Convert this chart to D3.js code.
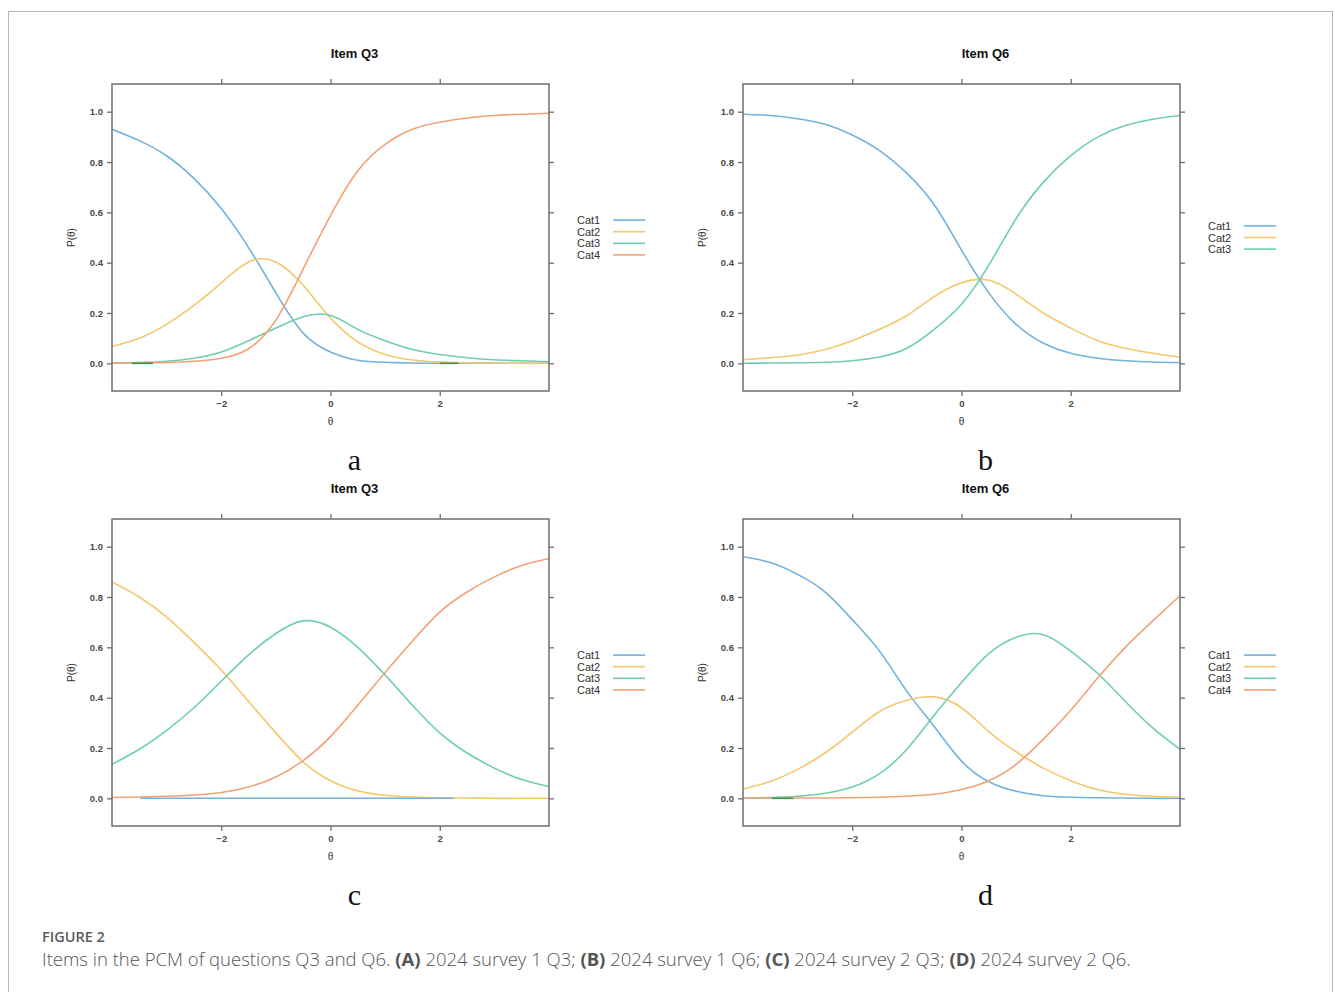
<!DOCTYPE html>
<html lang="en">
<head>
<meta charset="utf-8">
<title>Items in the PCM of questions Q3 and Q6</title>
<script src="https://cdnjs.cloudflare.com/ajax/libs/d3/7.8.5/d3.min.js"></script>
<style>
  body { margin: 0; background: #fff; }
  .tick-label { font-family: "Liberation Sans", Arial, sans-serif; font-size: 9.5px; font-weight: bold; fill: #4a4a4a; }
  .axis-title { font-family: "Liberation Sans", Arial, sans-serif; font-size: 10px; fill: #333; }
  .panel-title { font-family: "Liberation Sans", Arial, sans-serif; font-size: 13px; font-weight: bold; fill: #111; }
  .legend-text { font-family: "Liberation Sans", Arial, sans-serif; font-size: 11px; fill: #333; }
  .letter { font-family: "Liberation Serif", "Times New Roman", serif; font-size: 30px; fill: #111; }
  .fig-label { font-family: "Open Sans", sans-serif; font-size: 14.5px; font-weight: 600; fill: #5a5a5a; }
  .caption { font-family: "Open Sans", sans-serif; font-size: 18.5px; font-weight: 300; fill: #555; }
</style>
</head>
<body>
<script>
// theta grid shared by every curve
const theta = [-4, -3.5, -3, -2.5, -2, -1.5, -1, -0.5, 0, 0.5, 1, 1.5, 2, 2.5, 3, 3.5, 4];

const catNames = ["Cat1", "Cat2", "Cat3", "Cat4"];
const catColors = ["#72b2dc", "#f5c76c", "#6dcfad", "#f1a277"];
const xTicks = [-2, 0, 2];
const yTicks = [0, 0.2, 0.4, 0.6, 0.8, 1.0];

// (a) 2024 survey 1, Q3
const aCat1 = [0.93, 0.885, 0.825, 0.735, 0.615, 0.46, 0.28, 0.12, 0.045, 0.012, 0.004, 0.001, 0, 0, 0, 0, 0];
const aCat2 = [0.067, 0.10, 0.155, 0.23, 0.32, 0.403, 0.403, 0.31, 0.18, 0.085, 0.035, 0.013, 0.005, 0.002, 0.001, 0, 0];
const aCat3 = [0.001, 0.003, 0.008, 0.02, 0.045, 0.09, 0.14, 0.185, 0.19, 0.135, 0.09, 0.055, 0.035, 0.022, 0.014, 0.01, 0.006];
const aCat4 = [0, 0.001, 0.003, 0.008, 0.02, 0.058, 0.172, 0.375, 0.587, 0.765, 0.87, 0.93, 0.958, 0.975, 0.985, 0.99, 0.994];

// (b) 2024 survey 1, Q6
const bCat1 = [0.99, 0.985, 0.972, 0.95, 0.907, 0.845, 0.755, 0.63, 0.45, 0.28, 0.155, 0.08, 0.04, 0.02, 0.01, 0.005, 0.003];
const bCat2 = [0.014, 0.022, 0.033, 0.055, 0.09, 0.135, 0.19, 0.265, 0.32, 0.33, 0.275, 0.2, 0.14, 0.09, 0.06, 0.04, 0.024];
const bCat3 = [0, 0.001, 0.002, 0.004, 0.01, 0.025, 0.06, 0.135, 0.235, 0.39, 0.575, 0.72, 0.825, 0.9, 0.945, 0.97, 0.985];

// (c) 2024 survey 2, Q3 (Cat1 sits on zero, drawn as a segment below)
const cCat2 = [0.86, 0.80, 0.72, 0.62, 0.51, 0.385, 0.26, 0.145, 0.07, 0.03, 0.012, 0.005, 0.002, 0.001, 0, 0, 0];
const cCat3 = [0.135, 0.195, 0.27, 0.36, 0.465, 0.57, 0.655, 0.705, 0.68, 0.60, 0.49, 0.37, 0.26, 0.18, 0.12, 0.075, 0.047];
const cCat4 = [0.003, 0.005, 0.008, 0.013, 0.023, 0.045, 0.085, 0.15, 0.245, 0.37, 0.5, 0.625, 0.74, 0.82, 0.88, 0.925, 0.953];

// (d) 2024 survey 2, Q6
const dCat1 = [0.96, 0.937, 0.89, 0.82, 0.71, 0.585, 0.425, 0.285, 0.148, 0.066, 0.028, 0.01, 0.004, 0.002, 0.001, 0, 0];
const dCat2 = [0.037, 0.067, 0.115, 0.18, 0.263, 0.345, 0.39, 0.403, 0.36, 0.265, 0.185, 0.12, 0.07, 0.034, 0.016, 0.008, 0.004];
const dCat3 = [0.001, 0.003, 0.008, 0.02, 0.045, 0.098, 0.195, 0.33, 0.46, 0.575, 0.64, 0.65, 0.585, 0.495, 0.385, 0.28, 0.195];
const dCat4 = [0, 0, 0.001, 0.001, 0.002, 0.004, 0.008, 0.016, 0.035, 0.07, 0.135, 0.235, 0.35, 0.48, 0.6, 0.705, 0.805];

// short segments lying on P = 0 (theta from, theta to)
const aZeroSegs = [[-3.64, -3.25], [2.0, 2.34]];
const cZeroSegs = [[-3.48, 2.26]];
const dZeroSegs = [[-3.47, -3.08]];

const panels = [
  { title: "Item Q3", letter: "a", series: [aCat1, aCat2, aCat3, aCat4], zero: aZeroSegs, zeroColor: "#3f8d55" },
  { title: "Item Q6", letter: "b", series: [bCat1, bCat2, bCat3], zero: [], zeroColor: null },
  { title: "Item Q3", letter: "c", series: [null, cCat2, cCat3, cCat4], zero: cZeroSegs, zeroColor: catColors[0] },
  { title: "Item Q6", letter: "d", series: [dCat1, dCat2, dCat3, dCat4], zero: dZeroSegs, zeroColor: "#3f8d55" }
];

const W = 1335, H = 992;
const svg = d3.select("body").append("svg").attr("width", W).attr("height", H);

// outer figure border
svg.append("rect")
  .attr("x", 8.5).attr("y", 11.5).attr("width", 1324).attr("height", 1000)
  .attr("fill", "none").attr("stroke", "#b5b5b5").attr("stroke-width", 1);

const lefts = [112, 743];
const tops = [84, 519];
const pw = 437, ph = 307;

panels.forEach((p, i) => {
  const x0 = lefts[i % 2], y0 = tops[Math.floor(i / 2)];
  const g = svg.append("g");

  const x = d3.scaleLinear().domain([-4, 4]).range([x0, x0 + pw]);
  const y = d3.scaleLinear().domain([-0.11, 1.11]).range([y0 + ph, y0]);

  const axisStyle = sel => {
    sel.select(".domain").remove();
    sel.selectAll(".tick line").attr("stroke", "#6e6e6e").attr("stroke-width", 1.3);
    sel.selectAll(".tick text").attr("class", "tick-label");
  };

  g.append("g").attr("transform", `translate(0,${y0 + ph})`)
    .call(d3.axisBottom(x).tickValues(xTicks).tickSize(5).tickPadding(4).tickFormat(d3.format("d")))
    .call(axisStyle);
  g.append("g").attr("transform", `translate(0,${y0})`)
    .call(d3.axisTop(x).tickValues(xTicks).tickSize(5).tickFormat(""))
    .call(axisStyle);
  g.append("g").attr("transform", `translate(${x0},0)`)
    .call(d3.axisLeft(y).tickValues(yTicks).tickSize(5).tickPadding(4).tickFormat(d3.format(".1f")))
    .call(axisStyle);
  g.append("g").attr("transform", `translate(${x0 + pw},0)`)
    .call(d3.axisRight(y).tickValues(yTicks).tickSize(5).tickFormat(""))
    .call(axisStyle);

  const line = d3.line()
    .x((d, k) => x(theta[k]))
    .y(d => y(d))
    .curve(d3.curveNatural);

  const clip = "clip" + i;
  g.append("clipPath").attr("id", clip).append("rect")
    .attr("x", x0).attr("y", y0).attr("width", pw).attr("height", ph);

  const plot = g.append("g").attr("clip-path", `url(#${clip})`);
  p.series.forEach((s, k) => {
    if (!s) return;
    plot.append("path")
      .attr("d", line(s))
      .attr("fill", "none")
      .attr("stroke", catColors[k])
      .attr("stroke-width", 1.6);
  });

  const segLine = d3.line().x(d => x(d[0])).y(d => y(d[1]));
  p.zero.forEach(seg => {
    plot.append("path")
      .attr("d", segLine([[seg[0], 0], [seg[1], 0]]))
      .attr("fill", "none")
      .attr("stroke", p.zeroColor)
      .attr("stroke-width", 1.6);
  });

  // frame
  g.append("rect")
    .attr("x", x0).attr("y", y0).attr("width", pw).attr("height", ph)
    .attr("fill", "none").attr("stroke", "#6e6e6e").attr("stroke-width", 1.5);

  g.append("text").attr("class", "panel-title")
    .attr("x", x0 + pw / 2 + 24).attr("y", y0 - 26)
    .attr("text-anchor", "middle").text(p.title);

  g.append("text").attr("class", "axis-title")
    .attr("x", x(0)).attr("y", y0 + ph + 34)
    .attr("text-anchor", "middle").text("θ");

  g.append("text").attr("class", "axis-title")
    .attr("transform", `translate(${x0 - 37},${y0 + ph / 2}) rotate(-90)`)
    .attr("text-anchor", "middle").text("P(θ)");

  g.append("text").attr("class", "letter")
    .attr("x", x0 + pw / 2 + 24).attr("y", y0 + ph + 79)
    .attr("text-anchor", "middle").text(p.letter);

  // legend
  const n = p.series.length;
  const rowH = 11.6;
  const ly0 = y0 + ph / 2 - (n - 1) * rowH / 2;
  for (let k = 0; k < n; k++) {
    const ly = ly0 + k * rowH;
    g.append("text").attr("class", "legend-text")
      .attr("x", x0 + pw + 28).attr("y", ly + 4).text(catNames[k]);
    g.append("line")
      .attr("x1", x0 + pw + 64).attr("x2", x0 + pw + 96)
      .attr("y1", ly).attr("y2", ly)
      .attr("stroke", catColors[k]).attr("stroke-width", 1.6);
  }
});

// caption
svg.append("text").attr("class", "fig-label").attr("x", 42).attr("y", 942).text("FIGURE 2");

const caption = svg.append("text").attr("class", "caption").attr("x", 42).attr("y", 966);
const parts = [
  ["Items in the PCM of questions Q3 and Q6. ", false],
  ["(A)", true], [" 2024 survey 1 Q3; ", false],
  ["(B)", true], [" 2024 survey 1 Q6; ", false],
  ["(C)", true], [" 2024 survey 2 Q3; ", false],
  ["(D)", true], [" 2024 survey 2 Q6.", false]
];
parts.forEach(([t, b]) => {
  caption.append("tspan").attr("font-weight", b ? "bold" : null).text(t);
});
</script>
</body>
</html>
